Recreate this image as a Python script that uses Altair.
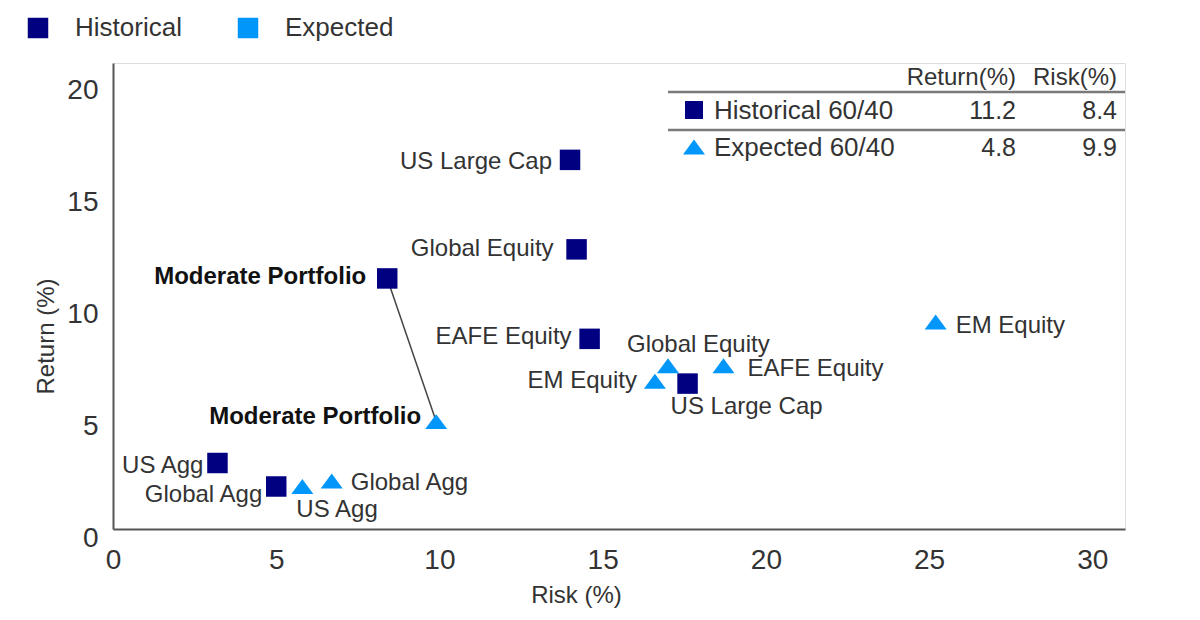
import altair as alt
import pandas as pd

# ---------------- data ----------------
hist_names = ["US Large Cap", "Global Equity", "Moderate Portfolio", "EAFE Equity",
              "US Large Cap", "US Agg", "Global Agg"]
hist_risk = [14.0, 14.2, 8.4, 14.6, 17.6, 3.2, 5.0]
hist_return = [16.5, 12.5, 11.2, 8.5, 6.5, 2.95, 1.9]

exp_names = ["Moderate Portfolio", "EM Equity", "Global Equity", "EM Equity",
             "EAFE Equity", "US Agg", "Global Agg"]
exp_risk = [9.9, 25.2, 17.0, 16.6, 18.7, 5.8, 6.7]
exp_return = [4.8, 9.25, 7.3, 6.6, 7.3, 1.9, 2.15]

series_names = ["Historical", "Expected"]

table_rows = ["Historical 60/40", "Expected 60/40"]
table_return = [11.2, 4.8]
table_risk = [8.4, 9.9]
table_headers = ["Return(%)", "Risk(%)"]

x_ticks = [0, 5, 10, 15, 20, 25, 30]
y_ticks = [0, 5, 10, 15, 20]

# ---------------- styling / layout ----------------
NAVY = "#000080"
BLUE = "#0096FA"
TXT = "#333333"
FONT = "Liberation Sans"

# label placement per point (align, dx, dy), in the same order as the points
label_layout = [
    ("right", -18, 2), ("right", -23, 0), ("right", -21, -1), ("right", -18, -2),
    ("left", -17, 23), ("right", -14, 3), ("right", -14, 9),
    ("right", -15, -5), ("left", 20, 4), ("left", -41, -21), ("right", -18, 0),
    ("left", 24, 3), ("left", -6, 24), ("left", 19, 2),
]

TRI = "M-1,0.68L1,0.68L0,-0.68Z"

df = pd.DataFrame({
    "series": ["Historical"] * len(hist_names) + ["Expected"] * len(exp_names),
    "name": hist_names + exp_names,
    "risk": hist_risk + exp_risk,
    "ret": hist_return + exp_return,
})
df["idx"] = range(len(df))

color_enc = alt.Color(
    "series:N",
    scale=alt.Scale(domain=series_names, range=[NAVY, BLUE]),
    legend=alt.Legend(
        title=None, orient="none", legendX=-88, legendY=-48, direction="horizontal",
        symbolType="square", symbolSize=420, symbolStrokeWidth=0, symbolOpacity=1,
        labelFontSize=26, labelColor=TXT, labelFont=FONT, labelOffset=24,
        columnPadding=53, padding=0,
    ),
)

x_enc = alt.X(
    "risk:Q",
    scale=alt.Scale(domain=[0, 31], nice=False, zero=True),
    axis=alt.Axis(
        values=x_ticks, title="Risk (%)", grid=False, ticks=False, tickSize=0,
        labelFontSize=28, labelPadding=17, labelColor=TXT, labelFont=FONT, labelFlush=False,
        domainColor="#555555", domainWidth=2,
        titleFontSize=24, titleFontWeight="normal", titleColor=TXT, titleFont=FONT,
        titleX=463, titleY=66, titleAlign="center", titleBaseline="middle",
    ),
)
y_enc = alt.Y(
    "ret:Q",
    scale=alt.Scale(domain=[0, 20.83], nice=False, zero=True),
    axis=alt.Axis(
        values=y_ticks, title="Return (%)", grid=False, ticks=False, tickSize=0,
        labelFontSize=28, labelPadding=15, labelOffset=9, labelColor=TXT, labelFont=FONT,
        labelFlush=False, domainColor="#555555", domainWidth=2,
        titleFontSize=24, titleFontWeight="normal", titleColor=TXT, titleFont=FONT,
        titleX=-67, titleY=273, titleAlign="center", titleBaseline="middle", titleAngle=270,
    ),
)

base = alt.Chart(df)

# connector between the two moderate portfolios
mi_h = hist_names.index("Moderate Portfolio")
mi_e = exp_names.index("Moderate Portfolio")
conn_df = pd.DataFrame({
    "risk": [hist_risk[mi_h]], "ret": [hist_return[mi_h]],
    "risk2": [exp_risk[mi_e]], "ret2": [exp_return[mi_e]],
})
connector = alt.Chart(conn_df).mark_rule(color="#444444", strokeWidth=1.5).encode(
    x=x_enc, y=y_enc, x2="risk2:Q", y2="ret2:Q"
)

hist_pts = base.transform_filter(alt.datum.series == "Historical").mark_point(
    shape="square", filled=True, size=420, opacity=1, strokeWidth=0
).encode(x=x_enc, y=y_enc, color=color_enc)

exp_pts = base.transform_filter(alt.datum.series == "Expected").mark_point(
    shape=TRI, filled=True, size=484, opacity=1, strokeWidth=0
).encode(x=x_enc, y=y_enc, color=color_enc)

labels = []
for i, (align, dx, dy) in enumerate(label_layout):
    bold = df.loc[i, "name"] == "Moderate Portfolio"
    labels.append(
        base.transform_filter(alt.datum.idx == i).mark_text(
            align=align, baseline="middle", dx=dx, dy=dy, fontSize=24, font=FONT,
            fontWeight="bold" if bold else "normal", color="#111111" if bold else TXT,
        ).encode(x="risk:Q", y="ret:Q", text="name:N")
    )

# ---------------- inset table ----------------
tdf = pd.DataFrame({"name": table_rows, "ret": table_return, "risk": table_risk,
                    "row": [0, 1]})
hdf = pd.DataFrame({"h": table_headers, "col": [0, 1]})
one = pd.DataFrame({"k": [0]})

table_layers = []
col_right = [903, 1004]
for c in range(2):
    table_layers.append(
        alt.Chart(hdf).transform_filter(alt.datum.col == c).mark_text(
            align="right", baseline="middle", fontSize=24, font=FONT, color=TXT
        ).encode(x=alt.value(col_right[c]), y=alt.value(15), text="h:N")
    )
for yy in [29, 67]:
    table_layers.append(
        alt.Chart(one).mark_rule(color="#7a7a7a", strokeWidth=2.5).encode(
            x=alt.value(555), x2=alt.value(1012), y=alt.value(yy)
        )
    )
row_y = [48, 85]
row_shape = ["square", TRI]
row_size = [324, 484]
row_color = [NAVY, BLUE]
for r in range(2):
    rd = alt.Chart(tdf).transform_filter(alt.datum.row == r)
    table_layers.append(
        rd.mark_point(shape=row_shape[r], filled=True, size=row_size[r], opacity=1,
                      strokeWidth=0, color=row_color[r]).encode(
            x=alt.value(581), y=alt.value(row_y[r] - 1))
    )
    table_layers.append(
        rd.mark_text(align="left", baseline="middle", fontSize=26, font=FONT, color=TXT)
        .encode(x=alt.value(601), y=alt.value(row_y[r]), text="name:N")
    )
    table_layers.append(
        rd.mark_text(align="right", baseline="middle", fontSize=25, font=FONT, color=TXT)
        .encode(x=alt.value(col_right[0]), y=alt.value(row_y[r]),
                text=alt.Text("ret:Q", format=".1f"))
    )
    table_layers.append(
        rd.mark_text(align="right", baseline="middle", fontSize=25, font=FONT, color=TXT)
        .encode(x=alt.value(col_right[1]), y=alt.value(row_y[r]),
                text=alt.Text("risk:Q", format=".1f"))
    )

chart = alt.layer(
    connector, hist_pts, exp_pts, *labels, *table_layers
).properties(
    width=1012, height=466,
    autosize=alt.AutoSizeParams(type="none"),
    padding={"left": 105, "top": 55, "right": 60, "bottom": 80},
).configure_view(strokeWidth=0).configure(font=FONT)

chart.save("out.html", embed_options={"renderer": "svg", "actions": False})
